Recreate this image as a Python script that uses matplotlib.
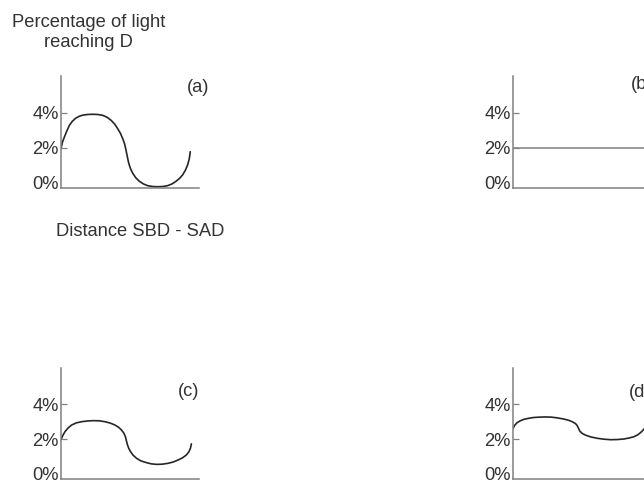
import matplotlib
matplotlib.use("Agg")
import matplotlib.pyplot as plt

plt.rcParams['font.family'] = ['Liberation Sans', 'DejaVu Sans']

# Percentage of light reaching D against distance (arbitrary units 0-10)
tick_values = [0, 2, 4]
tick_labels = ["0%", "2%", "4%"]

xa = [0.03, 0.12, 0.27, 0.45, 0.63, 0.85, 1.11, 1.35, 1.59, 1.95, 2.31, 2.67, 3.04, 3.35,
      3.64, 3.90, 4.12, 4.32, 4.48, 4.62, 4.72, 4.82, 4.92, 5.05, 5.20, 5.43, 5.69, 5.98,
      6.29, 6.65, 7.01, 7.37, 7.73, 8.05, 8.34, 8.60, 8.82, 9.02, 9.18, 9.30, 9.37]
ya = [1.98, 2.30, 2.62, 2.97, 3.28, 3.52, 3.70, 3.80, 3.86, 3.90, 3.91, 3.90, 3.85, 3.74,
      3.57, 3.35, 3.09, 2.82, 2.53, 2.22, 1.87, 1.48, 1.11, 0.80, 0.55, 0.28, 0.08, -0.07,
      -0.17, -0.22, -0.23, -0.22, -0.17, -0.07, 0.08, 0.25, 0.45, 0.72, 1.02, 1.38, 1.77]

xb = [0.0, 10.0]
yb = [2.0, 2.0]

xc = [0.03, 0.15, 0.31, 0.52, 0.79, 1.12, 1.51, 1.93, 2.36, 2.78, 3.20, 3.58, 3.92, 4.20,
      4.40, 4.57, 4.68, 4.75, 4.83, 4.93, 5.05, 5.23, 5.48, 5.80, 6.20, 6.55, 6.92, 7.34,
      7.76, 8.15, 8.49, 8.82, 9.09, 9.27, 9.38, 9.45]
yc = [1.98, 2.20, 2.42, 2.62, 2.80, 2.92, 2.99, 3.03, 3.05, 3.04, 2.99, 2.91, 2.80, 2.66,
      2.51, 2.33, 2.13, 1.90, 1.66, 1.45, 1.28, 1.08, 0.90, 0.75, 0.65, 0.58, 0.55, 0.56,
      0.61, 0.69, 0.80, 0.93, 1.09, 1.27, 1.47, 1.72]

xd = [0.0, 0.12, 0.29, 0.50, 0.77, 1.10, 1.50, 1.92, 2.34, 2.76, 3.19, 3.62, 4.03, 4.30,
      4.52, 4.62, 4.69, 4.76, 4.83, 5.00, 5.24, 5.62, 6.09, 6.57, 7.05, 7.55, 8.02, 8.40,
      8.74, 9.02, 9.23, 9.40, 9.55]
yd = [2.60, 2.78, 2.93, 3.03, 3.12, 3.18, 3.23, 3.25, 3.26, 3.25, 3.21, 3.15, 3.07, 2.98,
      2.88, 2.79, 2.69, 2.57, 2.45, 2.32, 2.22, 2.12, 2.04, 1.99, 1.96, 1.97, 2.00, 2.06,
      2.13, 2.24, 2.37, 2.50, 2.65]

W, H = 644, 483
TXT = "#333333"
AXC = "#808080"
FS = 13.2

fig = plt.figure(figsize=(W / 100, H / 100), dpi=100)


def panel(left_px, bottom_px, label, lx, ly):
    ax = fig.add_axes([left_px / W, 1 - bottom_px / H, 138.3 / W, 111.2 / H])
    ax.set_xlim(0, 10)
    ax.set_ylim(-0.286, 6.07)
    for s in ("top", "right"):
        ax.spines[s].set_visible(False)
    for s in ("left", "bottom"):
        ax.spines[s].set_color(AXC)
        ax.spines[s].set_linewidth(1.1)
    ax.set_xticks([])
    ax.set_yticks(tick_values)
    ax.set_yticklabels(tick_labels)
    ax.tick_params(axis="y", direction="in", length=4, width=0.9, color=AXC,
                   pad=1.5, labelsize=FS, labelcolor=TXT)
    ax.yaxis.get_major_ticks()[0].tick1line.set_visible(False)
    ax.patch.set_alpha(0)
    ax.text(lx, ly, label, transform=ax.transAxes, fontsize=FS, color=TXT,
            ha="left", va="center")
    return ax


ax_a = panel(60.7, 187.7, "(a)", 0.91, 0.905)
ax_b = panel(513.0, 187.7, "(b)", 0.851, 0.925)
ax_c = panel(60.7, 479.0, "(c)", 0.848, 0.79)
ax_d = panel(513.0, 479.0, "(d)", 0.835, 0.78)

curve = dict(color="#262626", lw=1.2, solid_capstyle="round")
ax_a.plot(xa, ya, **curve)
ax_b.plot(xb, yb, color=AXC, lw=1.1)
ax_c.plot(xc, yc, **curve)
ax_d.plot(xd, yd, **curve)

fig.text(88.5 / W, 1 - 14 / H, "Percentage of light\nreaching D", fontsize=FS,
         color=TXT, ha="center", va="top", multialignment="center", linespacing=1.25)
fig.text(140 / W, 1 - 231.5 / H, "Distance SBD - SAD", fontsize=FS, color=TXT,
         ha="center", va="center")

fig.savefig("out.png", dpi=100)
